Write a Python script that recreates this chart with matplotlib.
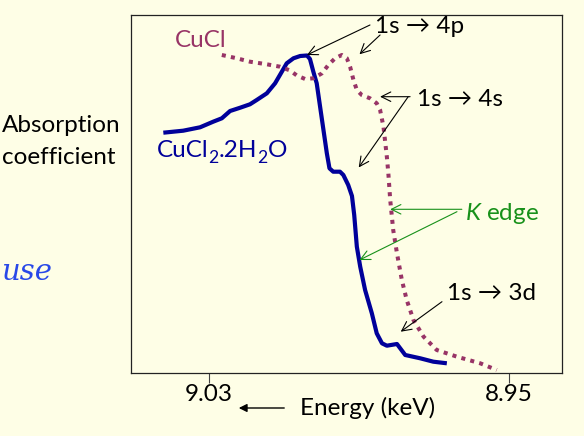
import matplotlib
matplotlib.use("Agg")
import matplotlib.pyplot as plt
from matplotlib.patches import FancyArrowPatch
from matplotlib.transforms import offset_copy

plt.rcParams['font.family'] = ['Lato', 'DejaVu Sans']
plt.rcParams['mathtext.fontset'] = 'custom'
plt.rcParams['mathtext.rm'] = 'Lato'
plt.rcParams['mathtext.it'] = 'Lato:italic'

# ---- data (energy in keV, absorption in arbitrary units) ----
cucl2_energy = [9.0422, 9.0369, 9.0324, 9.0289, 9.0266, 9.0244, 9.0217, 9.0191,
                9.0173, 9.0146, 9.0124, 9.0106, 9.0093, 9.0075, 9.0057, 9.0039,
                9.0031, 9.0022, 9.0013, 9.0004, 8.9995, 8.9986, 8.9979, 8.9969,
                8.9951, 8.9942, 8.9929, 8.9919, 8.9913, 8.9906, 8.9897, 8.9884,
                8.9866, 8.9853, 8.9839, 8.9826, 8.9799, 8.9777, 8.9737, 8.9702,
                8.9666]
cucl2_abs = [240.3, 242.3, 245.7, 251.3, 254.7, 262.0, 265.3, 268.7,
             273.0, 279.7, 289.7, 301.3, 309.7, 314.7, 317.0, 317.5,
             314.0, 301.3, 289.7, 266.3, 243.0, 219.7, 204.7, 201.3,
             201.3, 198.0, 188.0, 177.0, 158.0, 126.3, 106.3, 83.0,
             59.7, 39.7, 29.7, 27.3, 29.0, 18.0, 14.7, 11.3,
             9.7]

cucl_energy = [9.0266, 9.0226, 9.0191, 9.0146, 9.0111, 9.0084, 9.0066, 9.0044,
               9.0022, 8.9999, 8.9982, 8.9964, 8.9946, 8.9933, 8.9924, 8.9915,
               8.9906, 8.9893, 8.9871, 8.9853, 8.9844, 8.9835, 8.9831, 8.9826,
               8.9822, 8.9817, 8.9809, 8.9799, 8.9786, 8.9773, 8.9755, 8.9728,
               8.9693, 8.9639, 8.9577, 8.9533]
cucl_abs = [318.0, 314.7, 311.3, 308.7, 306.3, 302.5, 297.5, 294.0,
            294.7, 299.7, 308.0, 314.7, 318.0, 315.0, 306.3, 293.0,
            283.0, 278.0, 274.7, 269.7, 263.0, 246.3, 233.0, 216.3,
            199.7, 173.0, 143.0, 119.7, 93.0, 73.0, 53.0, 36.3,
            23.0, 16.3, 9.7, 3.0]

tick_values = [9.03, 8.95]
tick_labels = ["9.03", "8.95"]

BG = "#FEFEE6"
BLUE = "#00009A"
MAG = "#983466"
GREEN = "#18911A"
FS = 17.5

fig = plt.figure(figsize=(5.84, 4.36), dpi=100, facecolor=BG)
ax = fig.add_axes([0.2238, 0.1445, 0.7385, 0.8218], facecolor=BG)

ax.plot(cucl2_energy, cucl2_abs, color=BLUE, lw=3.0, solid_capstyle='butt',
        solid_joinstyle='round')
ax.plot(cucl_energy, cucl_abs, color=MAG, lw=2.9, linestyle=(0, (1, 1.3)))

ax.set_xlim(9.0509, 8.9359)
ax.set_ylim(0, 358.3)
ax.set_yticks([])
ax.set_xticks(tick_values)
ax.set_xticklabels(tick_labels, fontsize=FS)
ax.tick_params(axis='x', direction='out', length=7.2, width=0.8, pad=1,
               color='#444444', labelcolor='black')
for s in ax.spines.values():
    s.set_color('#222222')
    s.set_linewidth(0.9)

# curve labels
ax.text(9.0391, 326, "CuCl", color=MAG, fontsize=FS, va='baseline', ha='left')

# CuCl2.2H2O with real subscripts, pieces laid out one after another
renderer = fig.canvas.get_renderer()
pieces = [("CuCl", False), ("2", True), (".2H", False), ("2", True), ("O", False)]
x0, y0 = 9.0439, 216
dx = 0.0
for txt, sub in pieces:
    tr = offset_copy(ax.transData, fig=fig, x=dx, y=(-4.3 if sub else 0),
                     units='points')
    t = ax.text(x0, y0, txt, color=BLUE, fontsize=(FS * 0.72 if sub else FS),
                va='baseline', ha='left', transform=tr)
    w = t.get_window_extent(renderer=renderer).width
    dx += w * 72.0 / fig.dpi

arrow_k = dict(arrowstyle='->', color='black', lw=0.8, mutation_scale=17,
               shrinkA=0, shrinkB=0)
arrow_g = dict(arrowstyle='->', color=GREEN, lw=0.8, mutation_scale=17,
               shrinkA=0, shrinkB=0)

# 1s -> 4p
ax.text(8.9857, 340, "1s → 4p", fontsize=FS, va='baseline', ha='left')
ax.annotate("", xy=(9.0039, 318), xytext=(8.9871, 348), arrowprops=arrow_k)
ax.annotate("", xy=(8.9899, 318.7), xytext=(8.9844, 338), arrowprops=arrow_k)

# 1s -> 4s
ax.text(8.9746, 267, "1s → 4s", fontsize=FS, va='baseline', ha='left')
ax.annotate("", xy=(8.9844, 276.3), xytext=(8.9764, 276.3), arrowprops=arrow_k)
ax.annotate("", xy=(8.9901, 205.5), xytext=(8.9769, 276.3), arrowprops=arrow_k)

# K edge
ax.text(8.9617, 153, "$K$ edge", fontsize=FS, color=GREEN, va='baseline', ha='left')
ax.annotate("", xy=(8.9817, 163.7), xytext=(8.9626, 163.7), arrowprops=arrow_g)
ax.annotate("", xy=(8.9899, 113), xytext=(8.9639, 161.3), arrowprops=arrow_g)

# 1s -> 3d
ax.text(8.9666, 73, "1s → 3d", fontsize=FS, va='baseline', ha='left')
ax.annotate("", xy=(8.9789, 41.3), xytext=(8.9679, 71.3), arrowprops=arrow_k)

# outside texts
fig.text(2 / 584, 1 - 132 / 436, "Absorption", fontsize=FS, va='baseline', ha='left')
fig.text(2 / 584, 1 - 164 / 436, "coefficient", fontsize=FS, va='baseline', ha='left')
fig.text(300 / 584, 1 - 415 / 436, "Energy (keV)", fontsize=FS, va='baseline', ha='left')
fig.patches.append(FancyArrowPatch(
    (287 / 584, 1 - 408 / 436), (236 / 584, 1 - 408 / 436),
    transform=fig.transFigure, arrowstyle='-|>', mutation_scale=12,
    color='black', lw=1.0))

# handwritten note
fig.text(1 / 584, 1 - 280 / 436, "use", fontsize=21, color="#2848E8",
         fontstyle='italic', family=['DejaVu Serif'],
         va='baseline', ha='left')

fig.savefig("out.png", dpi=100, facecolor=BG)
